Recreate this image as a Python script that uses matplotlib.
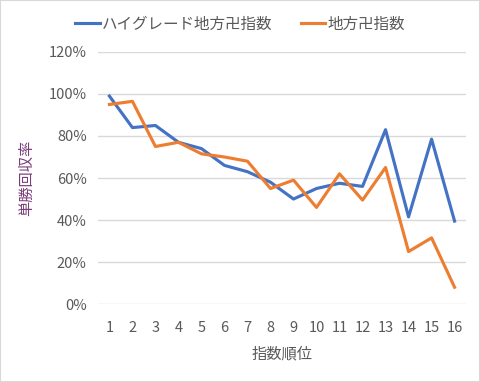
import matplotlib
matplotlib.use("Agg")
import matplotlib.pyplot as plt
from matplotlib.ticker import PercentFormatter
from matplotlib.patches import Rectangle

plt.rcParams['font.family'] = ['Noto Sans CJK JP', 'DejaVu Sans']

# Data
ranks = list(range(1, 17))
high_grade = [99, 84, 85, 77, 74, 66, 63, 58, 50, 55, 57.5, 56, 83, 41.5, 78.5, 39.5]
local = [95, 96.5, 75, 77, 71.5, 70, 68, 55, 59, 46, 62, 49.5, 65, 25, 31.5, 8]
y_ticks = [0, 20, 40, 60, 80, 100, 120]

text_color = "#595959"

fig = plt.figure(figsize=(4.8, 3.82), dpi=100)
ax = fig.add_axes([0.204, 0.204, 0.767, 0.66])

ax.plot(ranks, high_grade, color="#4472C4", linewidth=2.25, label="ハイグレード地方卍指数")
ax.plot(ranks, local, color="#ED7D31", linewidth=2.25, label="地方卍指数")

ax.set_xlim(0.5, 16.5)
ax.set_ylim(0, 120)
ax.set_xticks(ranks)
ax.set_yticks(y_ticks)
ax.yaxis.set_major_formatter(PercentFormatter(decimals=0))
ax.grid(axis="y", color="#D9D9D9", linewidth=1)
ax.set_axisbelow(True)
for s in ax.spines.values():
    s.set_visible(False)
ax.tick_params(length=0, labelsize=10.5, colors=text_color, pad=8)
ax.tick_params(axis="x", pad=12)

ax.set_xlabel("指数順位", fontsize=11, color=text_color, labelpad=8)
ax.set_ylabel("単勝回収率", fontsize=11, color="#7A3D7A", labelpad=10)

fig.legend(loc="upper center", bbox_to_anchor=(0.5, 0.995), ncol=2, frameon=False,
           fontsize=11.2, labelcolor=text_color, handlelength=1.6, columnspacing=1.8,
           handletextpad=0.15)

fig.patches.append(Rectangle((0, 0), 1, 1, transform=fig.transFigure, fill=False,
                             edgecolor="#D9D9D9", linewidth=1.5))

fig.savefig("out.png", dpi=100)
